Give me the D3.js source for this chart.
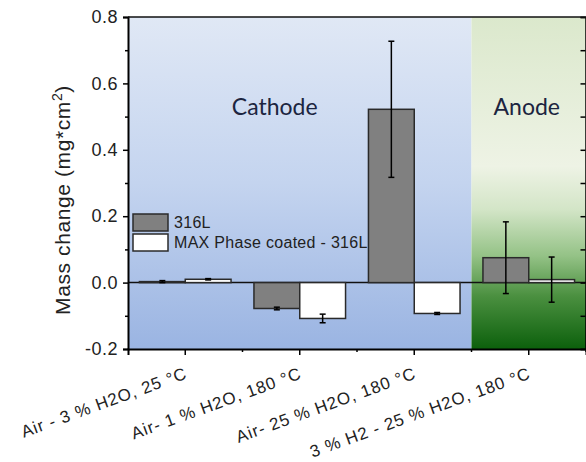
<!DOCTYPE html>
<html><head><meta charset="utf-8">
<script src="https://cdn.jsdelivr.net/npm/d3@7"></script>
<style>html,body{margin:0;padding:0;background:#fff;}svg{display:block;}</style>
</head><body>
<svg id="c" width="586" height="462"></svg>
<script>
const categories = ["Air - 3 % H2O, 25 °C", "Air- 1 % H2O, 180 °C", "Air- 25 % H2O, 180 °C", "3 % H2 - 25 % H2O, 180 °C"];
const seriesNames = ["316L", "MAX Phase coated - 316L"];
const values316L = [0.003, -0.078, 0.522, 0.075];
const err316L = [0.003, 0.004, 0.205, 0.108];
const valuesMAX = [0.010, -0.108, -0.093, 0.009];
const errMAX = [0.002, 0.013, 0.003, 0.068];
const yTicks = [-0.2, 0.0, 0.2, 0.4, 0.6, 0.8];
const regionLabels = ["Cathode", "Anode"];

const FONT = "'Liberation Sans', Arial, Helvetica, sans-serif";
const svg = d3.select("#c");
const L = 128, R = 586, T = 17, B = 349;
const x = d3.scaleBand().domain(categories).range([L, R]).paddingInner(0.2).paddingOuter(0.1);
const x1 = d3.scaleBand().domain(seriesNames).range([0, x.bandwidth()]).padding(0);
const y = d3.scaleLinear().domain([-0.2, 0.8]).range([B, T]);
const step = x.step();
const boundary = x(categories[3]) - step * 0.1;

const defs = svg.append("defs");
const gb = defs.append("linearGradient").attr("id", "gBlue").attr("x1", 0).attr("y1", 0).attr("x2", 0).attr("y2", 1);
[["0%", "#e0e8f5"], ["50%", "#c4d4ef"], ["100%", "#9ab4e2"]].forEach(s => gb.append("stop").attr("offset", s[0]).attr("stop-color", s[1]));
const gg = defs.append("linearGradient").attr("id", "gGreen").attr("x1", 0).attr("y1", 0).attr("x2", 0).attr("y2", 1);
[["0%", "#dbe8cc"], ["45%", "#eef3e5"], ["58%", "#d3e5c7"], ["72%", "#94c286"], ["84%", "#4b9040"], ["100%", "#0c600c"]].forEach(s => gg.append("stop").attr("offset", s[0]).attr("stop-color", s[1]));

svg.append("rect").attr("x", L).attr("y", T).attr("width", boundary - L).attr("height", B - T).attr("fill", "url(#gBlue)");
svg.append("rect").attr("x", boundary).attr("y", T).attr("width", R - boundary).attr("height", B - T).attr("fill", "url(#gGreen)");

// region labels
svg.append("text").attr("x", x(categories[1]) + x.bandwidth() / 2 - 25).attr("y", 115).attr("text-anchor", "middle")
  .attr("font-family", "Lato, 'Open Sans', sans-serif").attr("font-size", 23).attr("fill", "#1c2540").text(regionLabels[0]);
svg.append("text").attr("x", (boundary + R) / 2 - 2).attr("y", 115).attr("text-anchor", "middle")
  .attr("font-family", "Lato, 'Open Sans', sans-serif").attr("font-size", 23).attr("fill", "#1c2540").text(regionLabels[1]);

// zero line
svg.append("line").attr("x1", L).attr("x2", R).attr("y1", y(0)).attr("y2", y(0)).attr("stroke", "#111").attr("stroke-width", 1.5);

const data = categories.map((c, i) => ({c, bars: [
  {s: seriesNames[0], v: values316L[i], e: err316L[i], fill: "#808080"},
  {s: seriesNames[1], v: valuesMAX[i], e: errMAX[i], fill: "#ffffff"}
]}));

const g = svg.append("g");
const grp = g.selectAll("g").data(data).join("g").attr("transform", d => `translate(${x(d.c)},0)`);
grp.selectAll("rect").data(d => d.bars).join("rect")
  .attr("x", b => x1(b.s)).attr("width", x1.bandwidth())
  .attr("y", b => y(Math.max(0, b.v))).attr("height", b => Math.abs(y(b.v) - y(0)))
  .attr("fill", b => b.fill).attr("stroke", "#2a2a2a").attr("stroke-width", 1.5);
const eb = grp.selectAll("g.eb").data(d => d.bars).join("g").attr("class", "eb")
  .attr("transform", b => `translate(${x1(b.s) + x1.bandwidth() / 2},0)`);
eb.append("line").attr("y1", b => y(b.v + b.e)).attr("y2", b => y(b.v - b.e)).attr("stroke", "#000").attr("stroke-width", 1.5);
eb.append("line").attr("x1", -3).attr("x2", 3).attr("y1", b => y(b.v + b.e)).attr("y2", b => y(b.v + b.e)).attr("stroke", "#000").attr("stroke-width", 1.5);
eb.append("line").attr("x1", -3).attr("x2", 3).attr("y1", b => y(b.v - b.e)).attr("y2", b => y(b.v - b.e)).attr("stroke", "#000").attr("stroke-width", 1.5);

// axes
const minorY = d3.range(-0.1, 0.8, 0.2);
const yAxis = svg.append("g").attr("transform", `translate(${L},0)`)
  .call(d3.axisLeft(y).tickValues(yTicks).tickFormat(d => d.toFixed(1)).tickSize(5).tickPadding(5));
yAxis.select(".domain").attr("stroke-width", 2);
yAxis.selectAll(".tick line").attr("stroke-width", 1.5);
yAxis.selectAll("text").attr("font-family", FONT).attr("font-size", 18).attr("letter-spacing", 0.5).attr("fill", "#222");
svg.append("g").attr("transform", `translate(${L},0)`).call(d3.axisLeft(y).tickValues(minorY).tickFormat("").tickSize(3))
  .call(a => a.select(".domain").remove()).selectAll("line").attr("stroke-width", 1.5);

// right axis (ticks inward)
const yr = svg.append("g").attr("transform", `translate(${R - 0.5},0)`)
  .call(d3.axisRight(y).tickValues(d3.range(-0.2, 0.81, 0.1)).tickFormat("").tickSize(-5));
yr.select(".domain").attr("stroke-width", 1.5);
yr.selectAll("line").attr("stroke-width", 1.5);

// top line
svg.append("line").attr("x1", L).attr("x2", R).attr("y1", T).attr("y2", T).attr("stroke", "#111").attr("stroke-width", 1.5);

const xAxis = svg.append("g").attr("transform", `translate(0,${B})`)
  .call(d3.axisBottom(x).tickSize(6).tickFormat(""));
xAxis.select(".domain").attr("stroke-width", 2);
xAxis.selectAll(".tick line").attr("stroke-width", 1.5);
const minorX = categories.map(c => x(c) + x.bandwidth() + step * 0.1);
svg.append("g").selectAll("line").data(minorX).join("line")
  .attr("x1", d => d).attr("x2", d => d).attr("y1", B).attr("y2", B + 3).attr("stroke", "#000").attr("stroke-width", 1.5);

svg.append("g").selectAll("text").data(categories).join("text")
  .attr("transform", c => `translate(${x(c) + x.bandwidth() / 2 + 3},378) rotate(-20)`)
  .attr("text-anchor", "end").attr("font-family", FONT)
  .attr("font-size", 17).attr("letter-spacing", 0.9).attr("fill", "#222").text(c => c);

// y title
const yt = svg.append("text").attr("transform", "translate(70,200) rotate(-90)").attr("text-anchor", "middle")
  .attr("font-family", FONT).attr("font-size", 21).attr("letter-spacing", 0.6).attr("fill", "#222");
yt.append("tspan").text("Mass change (mg*cm");
yt.append("tspan").attr("dy", -8).attr("font-size", 14).text("2");
yt.append("tspan").attr("dy", 8).text(")");

// legend
const lg = svg.append("g").attr("transform", "translate(133,214)");
seriesNames.forEach((s, i) => {
  lg.append("rect").attr("x", 0).attr("y", i * 20).attr("width", 35).attr("height", 17)
    .attr("fill", i === 0 ? "#808080" : "#ffffff").attr("stroke", "#2a2a2a").attr("stroke-width", 1.5);
  lg.append("text").attr("x", 41).attr("y", i * 20 + 14).attr("font-family", FONT)
    .attr("font-size", 16).attr("letter-spacing", 0.3).attr("fill", "#222").text(s);
});
</script>
</body></html>
